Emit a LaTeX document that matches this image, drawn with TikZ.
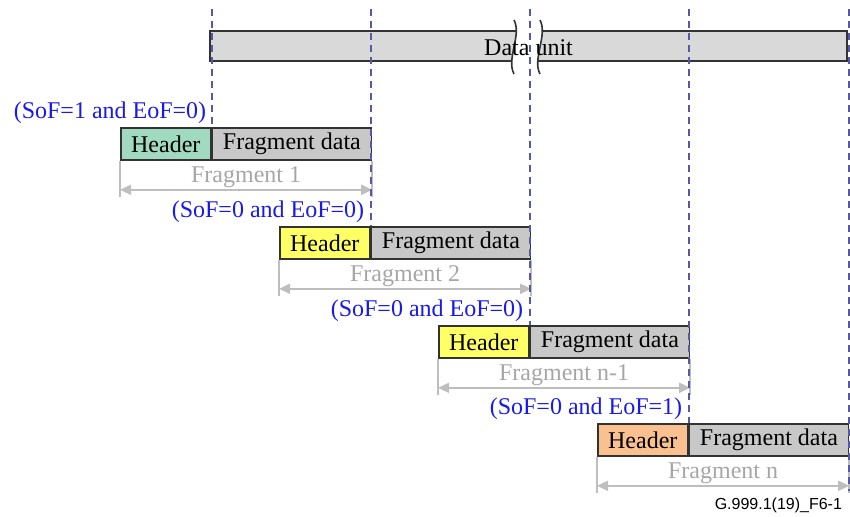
\documentclass[tikz,border=0pt]{standalone}
\usepackage{fontspec}
\setmainfont{Liberation Serif}
\newfontfamily\creditfont{Liberation Sans}
\usetikzlibrary{positioning,arrows.meta}
\definecolor{hdrgreen}{RGB}{160,218,192}
\definecolor{hdryellow}{RGB}{255,255,102}
\definecolor{hdrorange}{RGB}{250,192,144}
\definecolor{datgrey}{RGB}{200,200,200}
\definecolor{bargrey}{RGB}{217,217,217}
\definecolor{sofblue}{RGB}{25,25,235}
\definecolor{guideblue}{RGB}{88,88,168}
\definecolor{lblgrey}{RGB}{166,166,166}
\definecolor{dimgrey}{RGB}{190,190,190}
\begin{document}
\begin{tikzpicture} [
        x=0.5pt, y=-0.5pt,
        font=\fontsize{12}{14}\selectfont,
        box/.style={draw=black!80, line width=0.8pt, rectangle, inner sep=0pt, minimum height=16pt},
        header/.style={box, minimum width=45pt},
        fragdata/.style={box, fill=datgrey, minimum width=79.5pt},
        sof/.style={text=sofblue, inner sep=0pt},
        dim/.style={draw=dimgrey, line width=0.9pt, >={Triangle[length=5.5pt,width=5pt]}, <->},
        ext/.style={draw=dimgrey, line width=0.8pt},
        fraglabel/.style={text=lblgrey, above, inner sep=0.5pt},
        guide/.style={draw=guideblue, line width=0.9pt, dash pattern=on 3.5pt off 2.5pt},
        brk/.style={draw=black!80, line width=0.8pt} ]
    \useasboundingbox (0,0) rectangle (850,517);

    % data unit with break
    \node[box, fill=bargrey, minimum width=318.5pt, minimum height=15pt] (du) at (528.5,46) {};
    \fill[white] (514,20) .. controls (522,35) and (506,59) .. (514,74)
        -- (540,74) .. controls (532,59) and (548,35) .. (540,20) -- cycle;
    \draw[brk] (514,20) .. controls (522,35) and (506,59) .. (514,74);
    \draw[brk] (540,20) .. controls (548,35) and (532,59) .. (540,74);

    % fragments
    \node[header, fill=hdrgreen, anchor=west] (hdr1) at (120,144) {Header};
    \node[fragdata, right=0pt of hdr1] (dat1) {Fragment data};
    \node[header, fill=hdryellow, anchor=west] (hdr2) at (279,243) {Header};
    \node[fragdata, right=0pt of hdr2] (dat2) {Fragment data};
    \node[header, fill=hdryellow, anchor=west] (hdr3) at (438,342) {Header};
    \node[fragdata, right=0pt of hdr3] (dat3) {Fragment data};
    \node[header, fill=hdrorange, anchor=west] (hdr4) at (597,440) {Header};
    \node[fragdata, right=0pt of hdr4] (dat4) {Fragment data};

    \node[sof, above left=1.5pt and 2.5pt of hdr1.north east] (sof1) {(SoF=1 and EoF=0)};
    \node[sof, above left=1.5pt and 3pt of hdr2.north east] (sof2) {(SoF=0 and EoF=0)};
    \node[sof, above left=1.5pt and 3pt of hdr3.north east] (sof3) {(SoF=0 and EoF=0)};
    \node[sof, above left=1.5pt and 3pt of hdr4.north east] (sof4) {(SoF=0 and EoF=1)};

    % fragment lengths
    \draw[ext] (hdr1.south west) -- ++(0,36);
    \draw[ext] (dat1.south east) -- ++(0,36);
    \draw[dim] ([yshift=-14.5pt]hdr1.south west) -- node[fraglabel] (lbl1) {Fragment 1} ([yshift=-14.5pt]dat1.south east);
    \draw[ext] (hdr2.south west) -- ++(0,36);
    \draw[ext] (dat2.south east) -- ++(0,36);
    \draw[dim] ([yshift=-14.5pt]hdr2.south west) -- node[fraglabel] (lbl2) {Fragment 2} ([yshift=-14.5pt]dat2.south east);
    \draw[ext] (hdr3.south west) -- ++(0,36);
    \draw[ext] (dat3.south east) -- ++(0,36);
    \draw[dim] ([yshift=-14.5pt]hdr3.south west) -- node[fraglabel] (lbl3) {Fragment n-1} ([yshift=-14.5pt]dat3.south east);
    \draw[ext] (hdr4.south west) -- ++(0,36);
    \draw[ext] (dat4.south east) -- ++(0,36);
    \draw[dim] ([yshift=-14.5pt]hdr4.south west) -- node[fraglabel] (lbl4) {Fragment n} ([yshift=-14.5pt]dat4.south east);

    % boundaries
    \draw[guide] (hdr1.north east) ++(0,-118) -- (hdr1.north east);
    \draw[guide] (hdr2.north east) ++(0,-217) -- (hdr2.north east);
    \draw[guide] (hdr3.north east) ++(0,-316) -- (hdr3.north east);
    \draw[guide] (hdr4.north east) ++(0,-414) -- (hdr4.north east);
    \draw[guide] (dat4.north east) ++(0,-414) -- ++(0,482);

    \node[yshift=-0.75pt] (dutext) at (du.center) {Data unit};
    \node[font=\creditfont\fontsize{8}{10}\selectfont, anchor=east] (credit) at (849,505) {G.999.1(19)\_F6-1};
\end{tikzpicture}
\end{document}
